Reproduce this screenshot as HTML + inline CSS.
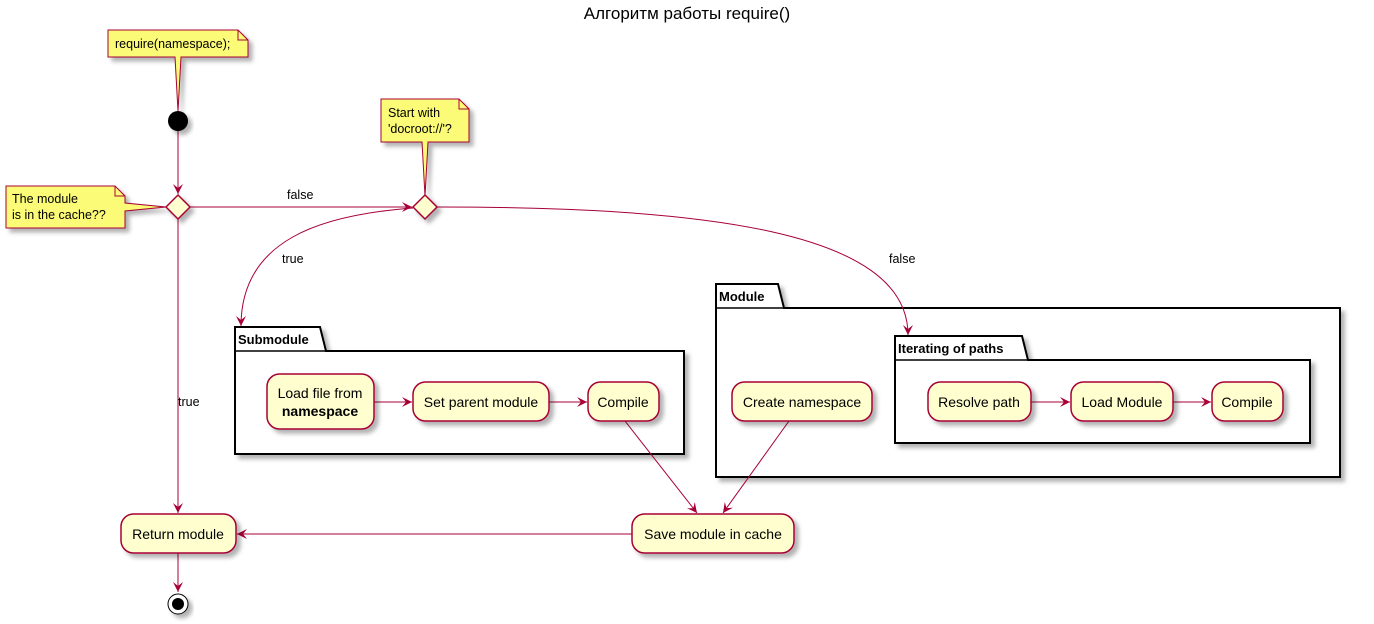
<!DOCTYPE html>
<html><head><meta charset="utf-8"><style>
html,body{margin:0;padding:0;background:#fff;}
svg{display:block;}
text{font-family:"Liberation Sans","DejaVu Sans",sans-serif;}
</style></head><body>
<svg width="1374" height="624" viewBox="0 0 1374 624" xmlns="http://www.w3.org/2000/svg">
<defs>
<marker id="a" markerWidth="12" markerHeight="10" refX="10" refY="5" orient="auto" markerUnits="userSpaceOnUse">
<path d="M0,0 L10,5 L0,10 L4,5 Z" fill="#A80036"/>
</marker>
<filter id="s" x="-20%" y="-20%" width="150%" height="160%"><feDropShadow dx="4" dy="4" stdDeviation="2" flood-color="#000" flood-opacity="0.3"/></filter>
</defs>
<text x="687" y="19" font-size="17" text-anchor="middle">Алгоритм работы require()</text>

<g filter="url(#s)" stroke="#000" stroke-width="2" fill="#fff">
<path d="M716,308 L716,284 L778,284 L784,308 L1340,308 L1340,477 L716,477 Z"/>
<path d="M235,351 L235,327 L320,327 L326,351 L684,351 L684,454 L235,454 Z"/>
</g>
<line x1="716" y1="308" x2="784" y2="308" stroke="#000" stroke-width="1.5"/>
<line x1="235" y1="351" x2="326" y2="351" stroke="#000" stroke-width="1.5"/>
<g filter="url(#s)" stroke="#000" stroke-width="2" fill="#fff">
<path d="M895,360 L895,336 L1022,336 L1028,360 L1310,360 L1310,443 L895,443 Z"/>
</g>
<line x1="895" y1="360" x2="1028" y2="360" stroke="#000" stroke-width="1.5"/>
<g font-size="13" font-weight="bold">
<text x="719" y="301">Module</text>
<text x="238" y="344">Submodule</text>
<text x="898" y="353">Iterating of paths</text>
</g>

<g stroke="#A80036" stroke-width="1" fill="none">
<line x1="178" y1="131" x2="178" y2="194" marker-end="url(#a)"/>
<line x1="190" y1="207" x2="412" y2="207" marker-end="url(#a)"/>
<line x1="178" y1="219" x2="178" y2="513" marker-end="url(#a)"/>
<path d="M413,208 C320,215 241,240 241,326" marker-end="url(#a)"/>
<path d="M437,207 C700,207 908,230 908,335" marker-end="url(#a)"/>
<line x1="374" y1="402" x2="412" y2="402" marker-end="url(#a)"/>
<line x1="549" y1="402" x2="587" y2="402" marker-end="url(#a)"/>
<line x1="1031" y1="402" x2="1070" y2="402" marker-end="url(#a)"/>
<line x1="1173" y1="402" x2="1211" y2="402" marker-end="url(#a)"/>
<line x1="625" y1="421" x2="697" y2="513" marker-end="url(#a)"/>
<line x1="789" y1="421" x2="723" y2="513" marker-end="url(#a)"/>
<line x1="632" y1="534" x2="237" y2="534" marker-end="url(#a)"/>
<line x1="178" y1="553" x2="178" y2="592" marker-end="url(#a)"/>
</g>
<g font-size="12.5">
<text x="287" y="199">false</text>
<text x="282" y="263">true</text>
<text x="889" y="263">false</text>
<text x="178" y="406">true</text>
</g>

<g filter="url(#s)" fill="#FBFB77" stroke="#A80036" stroke-width="1">
<path d="M108,30 L238,30 L248,40 L248,57 L181,57 L178,111 L175,57 L108,57 Z"/>
<path d="M381,99 L459,99 L469,109 L469,142 L428,142 L425,196 L422,142 L381,142 Z"/>
<path d="M6,186 L115,186 L125,196 L125,203 L166,207 L125,211 L125,228 L6,228 Z"/>
</g>
<g fill="none" stroke="#A80036" stroke-width="1">
<path d="M238,30 L238,40 L248,40"/><path d="M459,99 L459,109 L469,109"/><path d="M115,186 L115,196 L125,196"/>
</g>
<g font-size="12.5">
<text x="115" y="48">require(namespace);</text>
<text x="388" y="117">Start with</text>
<text x="388" y="133">'docroot://'?</text>
<text x="12" y="203">The module</text>
<text x="12" y="219">is in the cache??</text>
</g>

<circle cx="178" cy="121" r="10" fill="#000" filter="url(#s)"/>
<g filter="url(#s)" fill="#FEFECE" stroke="#A80036" stroke-width="1.5">
<path d="M178,195 L190,207 L178,219 L166,207 Z"/>
<path d="M425,195 L437,207 L425,219 L413,207 Z"/>
</g>

<g filter="url(#s)" fill="#FEFECE" stroke="#A80036" stroke-width="1.5">
<rect x="267" y="374" width="107" height="55" rx="12.5"/>
<rect x="413" y="382" width="136" height="39" rx="12.5"/>
<rect x="588" y="382" width="71" height="39" rx="12.5"/>
<rect x="732" y="382" width="140" height="39" rx="12.5"/>
<rect x="928" y="382" width="103" height="39" rx="12.5"/>
<rect x="1071" y="382" width="102" height="39" rx="12.5"/>
<rect x="1212" y="382" width="71" height="39" rx="12.5"/>
<rect x="121" y="514" width="115" height="39" rx="12.5"/>
<rect x="632" y="514" width="162" height="39" rx="12.5"/>
</g>
<g font-size="14" text-anchor="middle">
<text x="320" y="398">Load file from</text>
<text x="320" y="416" font-weight="bold">namespace</text>
<text x="481" y="407">Set parent module</text>
<text x="623" y="407">Compile</text>
<text x="802" y="407">Create namespace</text>
<text x="979" y="407">Resolve path</text>
<text x="1122" y="407">Load Module</text>
<text x="1247" y="407">Compile</text>
<text x="178" y="539">Return module</text>
<text x="713" y="539">Save module in cache</text>
</g>

<g filter="url(#s)">
<circle cx="178" cy="604" r="10" fill="#fff" stroke="#000" stroke-width="1"/>
<circle cx="178" cy="604" r="6" fill="#000"/>
</g>
</svg>
</body></html>
